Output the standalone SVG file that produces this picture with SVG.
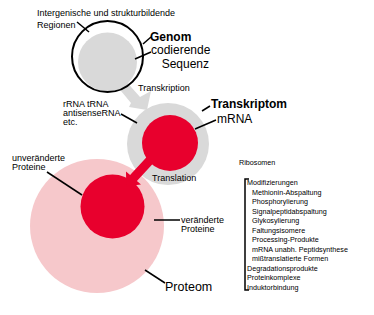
<svg xmlns="http://www.w3.org/2000/svg" width="374" height="315" viewBox="0 0 374 315">
<style>
text{font-family:"Liberation Sans",Arial,sans-serif;fill:#000}
.s9{font-size:9px}
.s12{font-size:12px}
.b{font-weight:bold}
.sm{font-size:7.2px}
.ln{stroke:#000;stroke-width:1.5;fill:none}
.grey{fill:#d9d9d9}
.red{fill:#e8002d}
.pink{fill:#f6c8cb}
</style>
<rect width="374" height="315" fill="#fff"/>
<g id="proteom">
<circle class="pink" cx="97" cy="226" r="67"/>
<circle class="red" cx="112.5" cy="206.5" r="32"/>
<text class="s9" x="12" y="161">unveränderte</text>
<text class="s9" x="12" y="170">Proteine</text>
<text class="s9" x="181" y="223">veränderte</text>
<text class="s9" x="181" y="232">Proteine</text>
<text x="165" y="291" style="font-size:12.5px">Proteom</text>
</g>
<g id="transkriptom">
<circle class="grey" cx="168" cy="144" r="41"/>
<circle class="red" cx="170" cy="143" r="28"/>
<text class="s9" x="63" y="107">rRNA tRNA</text>
<text class="s9" x="63" y="116">antisenseRNA</text>
<text class="s9" x="63" y="125">etc.</text>
<text class="s12 b" x="211" y="108">Transkriptom</text>
<text class="s12" x="217" y="123">mRNA</text>
</g>
<g id="genom">
<circle class="grey" cx="107.5" cy="62" r="29.5"/>
<text class="s9" x="37" y="16">Intergenische und strukturbildende</text>
<text class="s9" x="37" y="28">Regionen</text>
<text class="s12 b" x="150" y="41">Genom</text>
<text class="s12" x="151" y="54">codierende</text>
<text class="s12" x="209" y="68" text-anchor="end">Sequenz</text>
</g>
<g id="connectors">
<polygon class="grey" points="123.5,78.5 116.5,85.5 131,103 129,107 147,110 151,91 140,97"/>
<circle class="ln" cx="107.5" cy="56.5" r="35.5" style="stroke-width:2"/>
<polygon class="red" points="161.3,141.3 168.1,147.3 136.9,181 141,184.6 126.2,186.3 126,171.4 130.1,175"/>
<line class="ln" x1="77" y1="22" x2="89" y2="32"/>
<line class="ln" x1="143" y1="44" x2="151" y2="37"/>
<line class="ln" x1="135" y1="59" x2="151" y2="52"/>
<line class="ln" x1="121" y1="114" x2="137" y2="123"/>
<line class="ln" x1="202" y1="111" x2="210" y2="106"/>
<line class="ln" x1="195" y1="129" x2="216" y2="120"/>
<line class="ln" x1="47" y1="172" x2="82" y2="195"/>
<line class="ln" x1="154" y1="220" x2="180" y2="220"/>
<line class="ln" x1="145" y1="270" x2="165" y2="283"/>
<text class="s9" x="138" y="91">Transkription</text>
<text class="s9" x="152" y="181">Translation</text>
</g>
<g id="liste">
<text class="sm" x="239" y="165">Ribosomen</text>
<path class="ln" d="M249,179 H245 V290 H249"/>
<text class="sm" x="247" y="185">Modifizierungen</text>
<text class="sm" x="252" y="194.5">Methionin-Abspaltung</text>
<text class="sm" x="252" y="204">Phosphorylierung</text>
<text class="sm" x="252" y="213.5">Signalpeptidabspaltung</text>
<text class="sm" x="252" y="223">Glykosylierung</text>
<text class="sm" x="252" y="232.5">Faltungsisomere</text>
<text class="sm" x="252" y="242">Processing-Produkte</text>
<text class="sm" x="252" y="251.5">mRNA unabh. Peptidsynthese</text>
<text class="sm" x="252" y="261">mißtranslatierte Formen</text>
<text class="sm" x="247" y="270.5">Degradationsprodukte</text>
<text class="sm" x="247" y="280">Proteinkomplexe</text>
<text class="sm" x="247" y="289.5">Induktorbindung</text>
</g>
</svg>
